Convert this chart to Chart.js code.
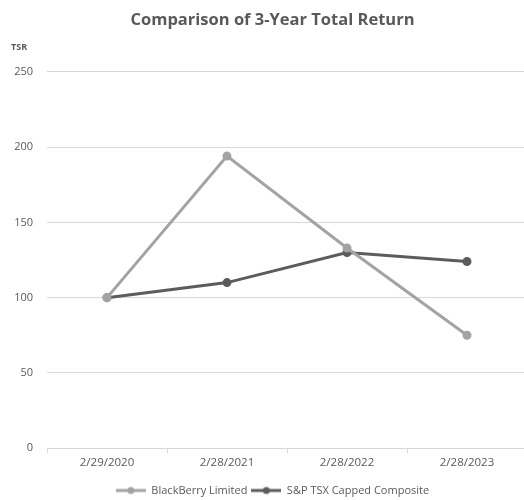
<!DOCTYPE html>
<html>
<head>
<meta charset="utf-8">
<script src="https://cdn.jsdelivr.net/npm/chart.js@4/dist/chart.umd.min.js"></script>
<style>
  html, body { margin: 0; padding: 0; background: #fff; overflow: hidden; }
  #wrap { width: 545px; height: 500px; }
</style>
</head>
<body>
<div id="wrap"><canvas id="chart"></canvas></div>
<script>
const dates = ['2/29/2020', '2/28/2021', '2/28/2022', '2/28/2023'];
const blackberry = [100, 194, 133, 75];
const tsx = [100, 110, 130, 124];
const yTicks = [0, 50, 100, 150, 200, 250];

const lightGray = '#a3a3a3';
const darkGray = '#5c5c5c';
const textGray = '#595959';

// little line+dot marker for the legend, like the office style
function legendMarker(color) {
  const c = document.createElement('canvas');
  c.width = 30;
  c.height = 10;
  const g = c.getContext('2d');
  g.strokeStyle = color;
  g.lineWidth = 3;
  g.beginPath();
  g.moveTo(0, 5);
  g.lineTo(30, 5);
  g.stroke();
  g.fillStyle = color;
  g.beginPath();
  g.arc(15, 5, 3.5, 0, Math.PI * 2);
  g.fill();
  return c;
}

const axisLabel = {
  id: 'axisLabel',
  afterDraw(chart) {
    const ctx = chart.ctx;
    ctx.save();
    ctx.font = 'bold 9px "Open Sans"';
    ctx.fillStyle = textGray;
    ctx.textBaseline = 'middle';
    ctx.fillText('TSR', 11, chart.chartArea.top - 24);
    ctx.restore();
  }
};

const ctx = document.getElementById('chart').getContext('2d');
new Chart(ctx, {
  type: 'line',
  data: {
    labels: dates,
    datasets: [{
      label: 'BlackBerry Limited',
      data: blackberry,
      borderColor: lightGray,
      backgroundColor: lightGray,
      borderWidth: 3,
      pointRadius: 3,
      tension: 0
    }, {
      label: 'S&P TSX Capped Composite',
      data: tsx,
      borderColor: darkGray,
      backgroundColor: darkGray,
      borderWidth: 3,
      pointRadius: 3,
      tension: 0
    }]
  },
  options: {
    responsive: true,
    maintainAspectRatio: false,
    animation: false,
    layout: {
      padding: { left: 0, right: 0, top: 8, bottom: -6 }
    },
    scales: {
      x: {
        offset: true,
        afterFit(scale) {
          scale.paddingLeft = 0;
          scale.paddingRight = 18;
          scale.height += 8;
        },
        grid: {
          display: true,
          drawOnChartArea: false,
          drawTicks: true,
          tickLength: 5,
          color: '#d9d9d9',
          offset: true
        },
        border: { color: '#d9d9d9' },
        ticks: {
          color: textGray,
          font: { family: '"Open Sans"', size: 11.5 },
          padding: 3,
          maxRotation: 0
        }
      },
      y: {
        min: 0,
        max: 250,
        afterBuildTicks(scale) {
          scale.ticks = yTicks.map(v => ({ value: v }));
        },
        afterFit(scale) {
          scale.width = 47;
        },
        grid: {
          color: '#d9d9d9',
          drawTicks: false
        },
        border: { display: false },
        ticks: {
          color: textGray,
          font: { family: '"Open Sans"', size: 11 },
          padding: 14
        }
      }
    },
    plugins: {
      title: {
        display: true,
        text: 'Comparison of 3-Year Total Return',
        color: textGray,
        font: { family: '"Open Sans"', size: 16.5, weight: 'bold' },
        padding: { top: 2, bottom: 42 }
      },
      legend: {
        position: 'bottom',
        labels: {
          color: textGray,
          font: { family: '"Open Sans"', size: 11 },
          usePointStyle: true,
          pointStyleWidth: 30,
          boxHeight: 10,
          padding: 4,
          generateLabels(chart) {
            return chart.data.datasets.map((ds, i) => ({
              text: ds.label,
              fontColor: textGray,
              pointStyle: legendMarker(ds.borderColor),
              strokeStyle: ds.borderColor,
              fillStyle: ds.borderColor,
              lineWidth: 0,
              datasetIndex: i
            }));
          }
        }
      },
      tooltip: { enabled: false }
    }
  },
  plugins: [axisLabel]
});
</script>
</body>
</html>
